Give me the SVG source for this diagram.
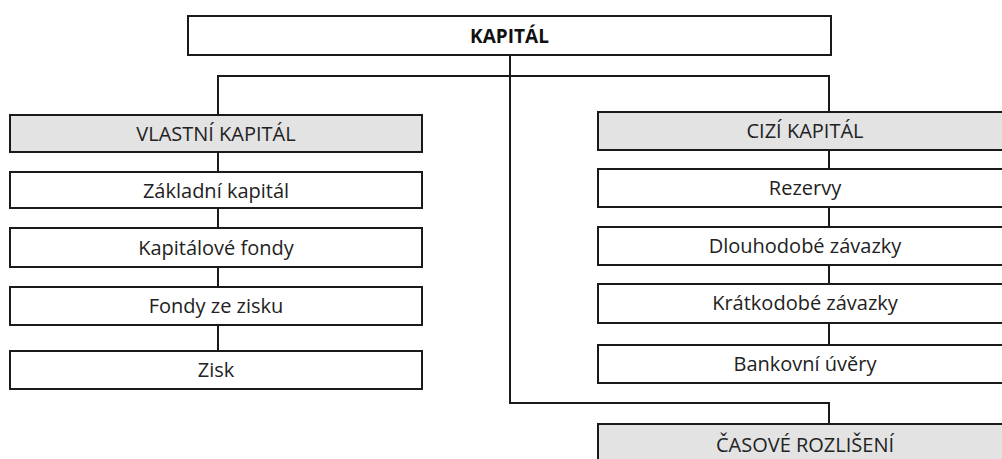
<svg xmlns="http://www.w3.org/2000/svg" width="1002" height="459" viewBox="0 0 1002 459">
<style>
.box{fill:#ffffff;stroke:#1a1a1a;stroke-width:2}
.gray{fill:#e3e3e3;stroke:#1a1a1a;stroke-width:2}
.t{font-family:"Open Sans","DejaVu Sans",sans-serif;font-size:20px;fill:#222;text-anchor:middle}
.tb{font-family:"Open Sans","DejaVu Sans",sans-serif;font-size:19px;font-weight:bold;fill:#111;text-anchor:middle}
.c{fill:none;stroke:#1a1a1a;stroke-width:2}
</style>
<rect width="1002" height="459" fill="#ffffff"/>
<g id="connectors">
<path class="c" d="M510 55 V403 H829 V424"/>
<path class="c" d="M218 115 V76 H829 V112"/>
<path class="c" d="M218 152 V172 M218 208 V228 M218 267 V287 M218 325 V351"/>
<path class="c" d="M829 150 V169 M829 207 V227 M829 265 V284 M829 323 V345"/>
</g>
<g id="kapital"><rect class="box" x="188" y="16" width="643" height="39"/><text class="tb" x="509.5" y="43">KAPITÁL</text></g>
<g id="vlastni"><rect class="gray" x="10" y="115" width="412" height="37"/><text class="t" x="216" y="141">VLASTNÍ KAPITÁL</text></g>
<g id="zakladni"><rect class="box" x="10" y="172" width="412" height="36"/><text class="t" x="216" y="198">Základní kapitál</text></g>
<g id="kapitalove"><rect class="box" x="10" y="228" width="412" height="39"/><text class="t" x="216" y="255">Kapitálové fondy</text></g>
<g id="fondy"><rect class="box" x="10" y="287" width="412" height="38"/><text class="t" x="216" y="313">Fondy ze zisku</text></g>
<g id="zisk"><rect class="box" x="10" y="351" width="412" height="38"/><text class="t" x="216" y="377">Zisk</text></g>
<g id="cizi"><rect class="gray" x="598" y="112" width="414" height="38"/><text class="t" x="805" y="138">CIZÍ KAPITÁL</text></g>
<g id="rezervy"><rect class="box" x="598" y="169" width="414" height="38"/><text class="t" x="805" y="195">Rezervy</text></g>
<g id="dlouhodobe"><rect class="box" x="598" y="227" width="414" height="38"/><text class="t" x="805" y="253">Dlouhodobé závazky</text></g>
<g id="kratkodobe"><rect class="box" x="598" y="284" width="414" height="39"/><text class="t" x="805" y="310">Krátkodobé závazky</text></g>
<g id="bankovni"><rect class="box" x="598" y="345" width="414" height="38"/><text class="t" x="805" y="371">Bankovní úvěry</text></g>
<g id="casove"><rect class="gray" x="598" y="424" width="414" height="50"/><text class="t" x="805" y="452">ČASOVÉ ROZLIŠENÍ</text></g>
</svg>
